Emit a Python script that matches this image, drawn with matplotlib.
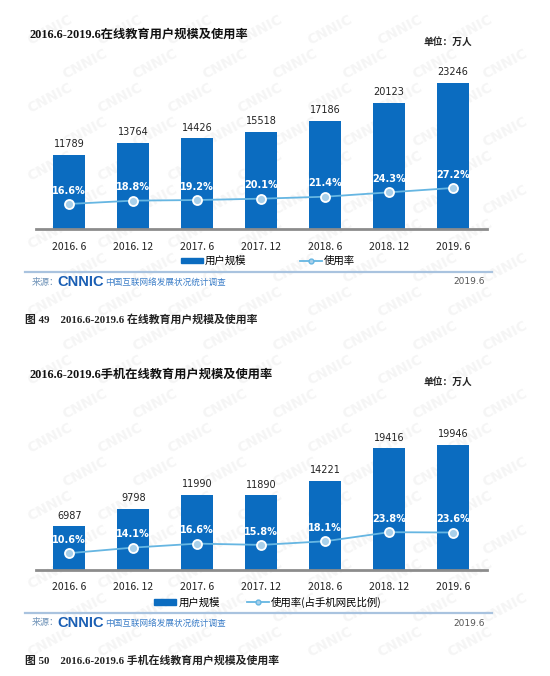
import matplotlib
matplotlib.use('Agg')
import matplotlib.pyplot as plt
from matplotlib.patches import Patch
from matplotlib.lines import Line2D

plt.rcParams['font.family'] = ['Noto Sans CJK SC', 'DejaVu Sans']

# data
periods = ['2016. 6', '2016. 12', '2017. 6', '2017. 12', '2018. 6', '2018. 12', '2019. 6']
users_all = [11789, 13764, 14426, 15518, 17186, 20123, 23246]
rate_all = [16.6, 18.8, 19.2, 20.1, 21.4, 24.3, 27.2]
users_mobile = [6987, 9798, 11990, 11890, 14221, 19416, 19946]
rate_mobile = [10.6, 14.1, 16.6, 15.8, 18.1, 23.8, 23.6]

titles = ['2016.6-2019.6在线教育用户规模及使用率',
          '2016.6-2019.6手机在线教育用户规模及使用率']
captions = ['图 49    2016.6-2019.6 在线教育用户规模及使用率',
            '图 50    2016.6-2019.6 手机在线教育用户规模及使用率']
legend_line = ['使用率', '使用率(占手机网民比例)']

W, H = 550, 676
BAR = '#0b6cc0'
LINE = '#66b6e2'
SERIF = ['Liberation Serif', 'Noto Sans CJK SC']

fig = plt.figure(figsize=(W / 100, H / 100), dpi=100)


def fx(px):
    return px / W


def fy(py):
    return 1 - py / H


# faint CNNIC watermark, kept inside the page
for r, yy in enumerate(range(30, H - 20, 34)):
    off = (r % 2) * 35
    for xx in range(50 + off, W - 40, 70):
        fig.text(fx(xx), fy(yy), 'CNNIC', fontsize=10, fontweight='bold',
                 color='#f5f5f5', rotation=28, ha='center', va='center',
                 family='DejaVu Sans', zorder=-5)


def panel(top_px, base_px, users, rate, ymax, pmax, title, caption,
          line_label, colspace):
    ax = fig.add_axes([fx(36), fy(base_px), fx(451), (base_px - top_px) / H])
    ax.patch.set_visible(False)
    x = list(range(len(periods)))
    ax.bar(x, users, width=0.5, color=BAR, zorder=2)
    ax.set_xlim(-0.52, 6.53)
    ax.set_ylim(0, ymax)
    for s in ['top', 'left', 'right']:
        ax.spines[s].set_visible(False)
    ax.spines['bottom'].set_color('#8c8c8c')
    ax.spines['bottom'].set_linewidth(2)
    ax.set_yticks([])
    ax.set_xticks(x)
    ax.set_xticklabels(periods, fontsize=7.5, color='#222222')
    ax.tick_params(axis='x', length=0, pad=9)
    for xi, v in zip(x, users):
        ax.annotate(str(v), (xi, v), xytext=(0, 4), textcoords='offset points',
                    ha='center', va='bottom', fontsize=7, color='#222222',
                    family='DejaVu Sans')

    ax2 = ax.twinx()
    ax2.patch.set_visible(False)
    ax2.plot(x, rate, color=LINE, lw=1.3, marker='o', ms=6.5,
             mfc='#a9d0ea', mec='white', mew=1.3, zorder=3)
    ax2.set_ylim(0, pmax)
    ax2.set_yticks([])
    for s in ax2.spines.values():
        s.set_visible(False)
    for xi, v in zip(x, rate):
        ax2.annotate('%.1f%%' % v, (xi, v), xytext=(0, 6),
                     textcoords='offset points', ha='center', va='bottom',
                     fontsize=7, color='white', fontweight='bold',
                     family='DejaVu Sans')

    # title and unit
    fig.text(fx(29), fy(top_px - 25), title, fontsize=8.8, fontweight='bold',
             family=SERIF, va='center', ha='left', color='#111111')
    fig.text(fx(472), fy(top_px - 18), '单位：万人', fontsize=7,
             fontweight='bold', va='center', ha='right', color='#222222')

    # legend
    handles = [Patch(color=BAR),
               Line2D([], [], color=LINE, lw=1.3, marker='o', ms=3.5,
                      mfc='#a9d0ea', mec=LINE)]
    fig.legend(handles, ['用户规模', line_label], loc='center',
               bbox_to_anchor=(fx(268), fy(base_px + 32)), ncol=2,
               frameon=False, fontsize=7.5, handlelength=2.1,
               handleheight=0.45, handletextpad=0.2, columnspacing=colspace)

    # separator and source
    sep = base_px + 43
    fig.add_artist(Line2D([fx(25), fx(492)], [fy(sep), fy(sep)],
                          color='#a9c3df', lw=1.6))
    fig.text(fx(32), fy(sep + 10), '来源：', fontsize=6.5, color='#6f93b8',
             va='center')
    fig.text(fx(57), fy(sep + 10), 'CNNIC', fontsize=10.5, fontweight='bold',
             color='#1a5fb4', family='Liberation Sans', va='center')
    fig.text(fx(105), fy(sep + 10), '中国互联网络发展状况统计调查',
             fontsize=6.2, color='#3d7fc8', va='center')
    fig.text(fx(485), fy(sep + 10), '2019.6', fontsize=6.5, color='#555555',
             va='center', ha='right', family='DejaVu Sans')
    fig.text(fx(25), fy(sep + 47), caption, fontsize=7.8, fontweight='bold',
             family=SERIF, va='center', color='#222222')


panel(60, 229, users_all, rate_all, 26900, 112, titles[0], captions[0],
      legend_line[0], 5.2)
panel(400, 570, users_mobile, rate_mobile, 27100, 107, titles[1], captions[1],
      legend_line[1], 2.6)

fig.savefig('out.png', dpi=100)
